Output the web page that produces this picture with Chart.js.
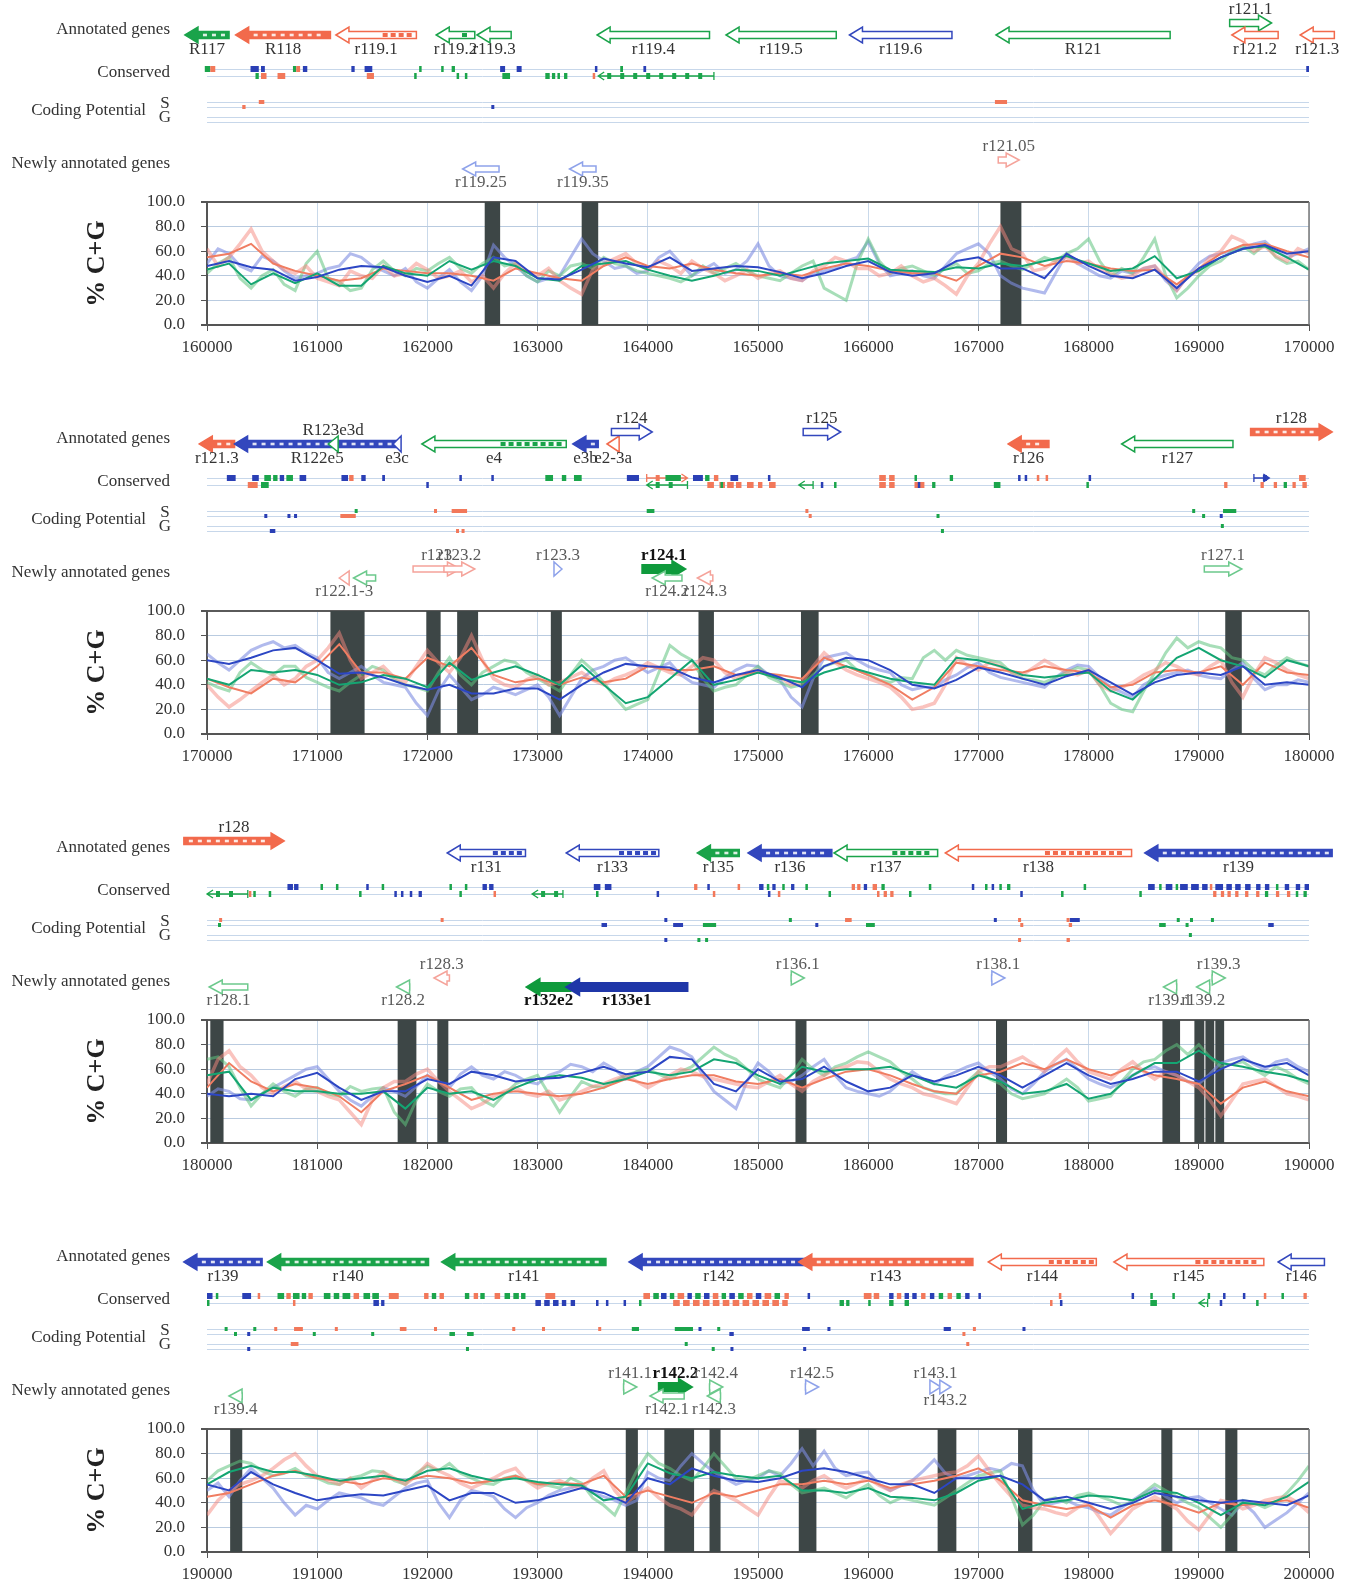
<!DOCTYPE html>
<html>
<head>
<meta charset="utf-8">
<script src="https://cdn.jsdelivr.net/npm/chart.js@4.4.0/dist/chart.umd.min.js"></script>
<style>
body { margin: 0; background: #fff; width: 1357px; height: 1586px; overflow: hidden; position: relative; }
canvas { position: absolute; left: 0; }
</style>
</head>
<body>
<canvas id="p0" width="1357" height="409"></canvas>
<canvas id="p1" width="1357" height="409"></canvas>
<canvas id="p2" width="1357" height="409"></canvas>
<canvas id="p3" width="1357" height="409"></canvas>
<script>
// window starts (bp) and sampling steps of the %C+G curves
const starts = [160000, 170000, 180000, 190000];
const rawStep = 100;   // light, noisy curves
const avgStep = 200;   // darker, smoothed curves

// ---- panel 1 : 160000-170000 ----
const redRaw1 = [62,48,55,66,78,60,52,45,42,48,38,35,32,44,40,38,48,40,42,50,
  45,38,40,44,35,40,30,42,50,44,40,46,36,30,25,45,50,54,58,50,
  45,52,48,42,52,46,42,36,40,45,38,42,44,38,36,44,48,55,52,46,
  46,40,42,48,40,35,38,32,25,40,50,66,80,62,58,44,46,52,55,50,
  52,45,42,38,40,46,48,38,28,40,44,55,60,72,68,60,64,56,52,62, 58];
const greenRaw1 = [42,50,55,38,30,40,45,33,28,50,60,38,35,28,30,45,52,44,40,46,
  44,50,55,46,42,50,55,48,50,40,35,44,40,48,50,46,55,50,48,44,
  42,40,38,35,40,48,42,46,50,44,40,38,36,42,48,52,30,25,20,50,
  70,52,42,46,48,44,40,46,50,42,44,50,52,48,45,50,55,52,58,62,
  70,52,40,46,42,55,70,40,22,30,40,48,52,60,64,58,66,55,50,52, 45];
const blueRaw1 = [50,62,58,48,44,56,52,44,38,40,42,46,48,58,55,48,44,40,46,35,
  30,38,45,35,28,40,65,55,48,40,35,38,40,55,70,58,52,46,48,42,
  44,55,60,50,40,45,50,42,45,52,66,48,40,38,36,42,44,46,52,55,
  68,50,40,42,44,40,38,48,58,62,66,58,40,34,30,28,26,42,58,50,
  45,40,38,44,42,46,48,36,28,40,50,56,58,60,62,66,68,60,55,58, 62];
const redAvg1   = [55,58,66,50,44,40,36,38,46,44, 42,42,40,36,46,42,38,36,48,55, 48,46,50,45,42,40,42,40,46,50, 48,44,42,42,36,48,58,55,48,52, 50,46,44,45,33,46,58,65,66,60, 55];
const greenAvg1 = [45,50,33,42,34,42,32,32,48,42, 40,52,45,52,48,38,36,48,50,52, 45,40,36,40,45,44,40,45,50,52, 54,45,44,43,47,46,50,48,52,56, 50,44,46,56,38,44,55,62,64,55, 45];
const blueAvg1  = [48,52,47,45,36,39,45,48,47,40, 35,40,32,55,52,38,37,45,54,50, 47,55,44,46,48,47,43,38,42,48, 52,43,40,42,52,55,46,46,38,58, 48,40,38,45,30,46,55,62,65,58, 60];
const bars1 = [[162520,162660],[163400,163550],[167200,167390]];
// [start, end, strand, colour, row, label, label side, kind]
const genes1 = [
  [159800,160200,'L','g',0,'R117','b','exon'],
  [160260,161120,'L','r',0,'R118','b','exon'],
  [161170,161900,'L','r',0,'r119.1','b','part'],
  [162080,162430,'L','g',0,'r119.2','b','part'],
  [162450,162760,'L','g',0,'r119.3','b','open'],
  [163540,164560,'L','g',0,'r119.4','b','open'],
  [164710,165710,'L','g',0,'r119.5','b','open'],
  [165830,166760,'L','b',0,'r119.6','b','open'],
  [167160,168740,'L','g',0,'R121','b','open'],
  [169280,169660,'R','g',1,'r121.1','a','open'],
  [169300,169720,'L','r',0,'r121.2','b','open'],
  [169920,170230,'L','r',0,'r121.3','b','open']
];
const newGenes1 = [
  [162320,162650,'L','b',1,'r119.25','b','open'],
  [163290,163530,'L','b',1,'r119.35','b','open'],
  [167180,167370,'R','r',0,'r121.05','a','open']
];
// [start, end, row, colour]
const cons1 = [
  [159980,160030,0,'g'],[160030,160075,0,'r'],[160395,160470,0,'b'],[160490,160525,0,'b'],
  [160780,160810,0,'g'],[160810,160845,0,'r'],[160870,160910,0,'b'],[161310,161340,0,'b'],
  [161430,161500,0,'b'],[161925,161945,0,'g'],[162125,162140,0,'g'],[162220,162250,0,'g'],
  [162660,162705,0,'b'],[162810,162855,0,'b'],[163520,163540,0,'b'],[163750,163775,0,'g'],
  [163960,163985,0,'b'],[169975,170000,0,'b'],
  [160440,160470,1,'g'],[160490,160540,1,'r'],[160640,160710,1,'r'],[161450,161515,1,'r'],
  [161880,161895,1,'g'],[162265,162280,1,'g'],[162340,162355,1,'g'],[162680,162750,1,'g'],
  [163070,163110,1,'g'],[163130,163160,1,'g'],[163180,163200,1,'g'],[163240,163270,1,'g'],
  [163500,163520,1,'r'],[163550,164600,1,'gL']
];
const coding1 = [[160320,160350,1,'r'],[160470,160520,0,'r'],[162580,162600,1,'b'],[167150,167260,0,'r']];

// ---- panel 2 : 170000-180000 ----
const redRaw2 = [40,30,22,28,35,42,48,40,45,55,60,70,82,60,45,50,55,46,42,55,
  68,58,50,62,80,60,45,40,38,44,48,40,42,46,50,44,40,45,48,52,
  58,54,50,48,55,62,60,50,45,50,52,48,46,40,42,55,66,58,52,48,
  45,42,38,30,20,22,25,40,62,56,52,58,55,50,48,54,60,55,50,48,
  52,40,35,38,42,48,52,58,55,50,48,55,60,42,30,48,62,58,52,48, 45];
const greenRaw2 = [42,38,35,50,58,52,48,55,55,46,42,38,35,42,48,55,52,44,40,38,
  35,50,62,48,40,50,55,60,58,50,45,40,35,48,60,52,42,30,20,24,
  28,50,72,65,60,45,35,38,40,48,55,46,42,38,40,48,55,58,60,52,
  48,44,42,46,45,62,68,60,68,64,62,60,58,50,45,44,42,46,50,54,
  52,40,25,20,18,35,50,66,78,70,75,72,70,62,60,52,48,56,62,58, 55];
const blueRaw2 = [65,58,52,60,68,72,75,70,72,66,62,50,45,50,55,48,42,40,38,25,
  15,35,48,38,28,32,38,35,32,36,40,30,15,30,45,52,55,60,62,56,
  50,54,58,48,42,40,38,46,52,56,55,48,44,30,22,45,62,64,66,60,
  55,52,50,40,36,38,38,44,48,54,58,50,46,44,42,40,38,46,52,56,
  55,46,38,34,30,40,45,48,50,52,48,46,45,52,58,45,36,40,40,44, 42];
const redAvg2   = [45,38,33,45,42,55,73,50,50,45, 62,55,70,48,42,45,40,46,42,45, 55,52,52,55,48,50,48,45,62,55, 48,40,28,38,58,55,52,50,55,52, 50,38,40,50,52,50,55,40,58,50, 48];
const greenAvg2 = [45,40,52,50,52,48,40,42,48,45, 38,58,44,50,55,48,40,56,40,25, 30,45,60,40,44,50,45,42,50,55, 50,45,42,40,62,60,55,48,46,48, 50,35,28,45,62,70,60,55,46,60, 55];
const blueAvg2  = [60,57,62,68,70,60,49,50,46,40, 36,40,33,33,37,37,28,40,50,57, 55,54,46,42,48,52,46,38,55,62, 60,52,40,37,44,54,50,45,40,47, 52,42,32,42,48,50,48,55,40,42, 40];
const bars2 = [[171120,171430],[171990,172120],[172270,172460],[173120,173220],[174460,174600],[175390,175550],[179240,179390]];
const genes2 = [
  [169930,170250,'L','r',0,'r121.3','b','exon'],
  [170250,171750,'L','b',0,'R122e5','b','exon'],
  [171100,171190,'L','g',0,'R123e3d','a','open'],
  [171690,171760,'L','b',0,'e3c','b','exon'],
  [171950,173260,'L','g',0,'e4','b','part'],
  [173320,173550,'L','b',0,'e3b','b','exon'],
  [173630,173740,'L','r',0,'e2-3a','b','open'],
  [173670,174040,'R','b',1,'r124','a','open'],
  [175410,175750,'R','b',1,'r125','a','open'],
  [177270,177640,'L','r',0,'r126','b','exon'],
  [178300,179310,'L','g',0,'r127','b','open'],
  [179470,180210,'R','r',1,'r128','a','exon']
];
const newGenes2 = [
  [171200,171290,'L','r',1,'r122.1-3','b','open'],
  [171330,171530,'L','g',1,'','b','open'],
  [171870,172300,'R','r',0,'r123','a','open'],
  [172150,172430,'R','r',0,'r123.2','a','open'],
  [173150,173220,'R','b',0,'r123.3','a','open'],
  [173950,174340,'R','g',0,'r124.1','a','bold'],
  [174040,174310,'L','g',1,'r124.2','b','open'],
  [174450,174590,'L','r',1,'r124.3','b','open'],
  [179050,179390,'R','g',0,'r127.1','a','open']
];
const cons2 = [
  [170180,170260,0,'b'],[170410,170470,0,'b'],[170520,170580,0,'g'],[170600,170640,0,'g'],
  [170660,170700,0,'b'],[170720,170780,0,'g'],[170840,170900,0,'b'],[171220,171280,0,'b'],
  [171290,171330,0,'r'],[171400,171440,0,'b'],[171590,171615,0,'b'],[172290,172305,0,'b'],
  [172580,172595,0,'b'],[173070,173140,0,'g'],[173220,173260,0,'g'],[173330,173400,0,'g'],
  [173810,173920,0,'b'],[173990,174360,0,'rR'],[174160,174300,0,'g'],[174410,174500,0,'b'],
  [174520,174560,0,'g'],[174600,174640,0,'r'],[174750,174820,0,'b'],[175090,175110,0,'b'],
  [176100,176160,0,'r'],[176190,176240,0,'r'],[176420,176440,0,'g'],[176740,176770,0,'g'],
  [177360,177380,0,'b'],[177420,177440,0,'b'],[177530,177550,0,'r'],[177610,177630,0,'r'],
  [178000,178015,0,'b'],[179500,179640,0,'bR'],[179910,179970,0,'r'],
  [170370,170460,1,'r'],[170490,170560,1,'g'],[171990,172010,1,'b'],[173990,174360,1,'gL'],
  [174540,174600,1,'r'],[174650,174700,1,'r'],[174660,174680,1,'g'],[174720,174780,1,'r'],
  [174800,174850,1,'r'],[174900,174960,1,'r'],[175000,175040,1,'r'],[175100,175160,1,'r'],
  [175370,175500,1,'gL'],[175570,175590,1,'b'],[175690,175710,1,'g'],[176100,176160,1,'r'],
  [176190,176240,1,'r'],[176420,176510,1,'r'],[176450,176470,1,'b'],[176580,176610,1,'g'],
  [177140,177200,1,'g'],[177980,178000,1,'g'],[179230,179260,1,'r'],[179560,179590,1,'r'],
  [179680,179710,1,'r'],[179770,179800,1,'g'],[179850,179880,1,'r'],[179940,179980,1,'r']
];
const coding2 = [
  [170520,170540,1,'b'],[170730,170750,1,'b'],[170790,170810,1,'b'],[171210,171350,1,'r'],
  [171340,171360,0,'g'],[172060,172080,0,'r'],[172220,172360,0,'r'],[172260,172280,3,'r'],
  [172310,172330,3,'r'],[170570,170620,3,'b'],[173990,174060,0,'g'],[175430,175450,0,'r'],
  [175460,175480,1,'r'],[176620,176640,1,'g'],[176660,176680,3,'g'],[178940,178960,0,'g'],
  [179030,179050,1,'g'],[179190,179210,1,'b'],[179220,179340,0,'g'],[179200,179220,2,'g']
];

// ---- panel 3 : 180000-190000 ----
const redRaw3 = [48,68,75,62,55,45,40,46,50,44,42,38,35,25,15,35,45,50,50,56,
  60,50,42,35,28,32,38,42,45,40,38,42,35,38,42,46,48,52,55,50,
  45,50,55,60,58,54,52,50,48,46,45,50,55,48,42,50,55,60,62,66,
  65,58,52,48,45,40,38,35,32,45,58,62,62,66,70,64,58,68,76,66,
  58,55,52,60,66,58,52,58,55,50,45,35,22,35,48,50,52,46,40,38, 35];
const greenRaw3 = [68,70,62,45,30,40,48,42,38,44,45,40,38,46,42,44,45,25,15,35,
  48,42,38,44,45,35,30,40,48,52,55,40,25,38,50,46,45,50,55,58,
  60,56,52,58,62,70,78,72,68,60,52,48,45,55,68,60,55,62,65,70,
  74,70,66,58,52,45,42,40,40,50,58,52,48,40,36,38,40,46,52,45,
  34,36,38,50,60,66,68,75,80,72,80,70,62,64,66,60,55,62,58,52, 48];
const blueRaw3 = [38,44,42,36,35,40,45,50,55,60,62,52,42,35,30,38,45,42,38,46,
  55,50,45,56,62,55,52,58,55,50,48,55,58,64,62,58,65,60,52,58,
  62,70,78,75,70,55,42,35,28,50,65,58,48,50,55,62,68,55,45,42,
  40,38,42,50,58,52,48,54,58,62,65,58,52,44,40,48,58,64,68,60,
  52,48,45,50,55,60,62,58,55,50,48,56,65,68,70,64,60,66,68,62, 58];
const redAvg3   = [45,65,50,42,48,45,38,25,42,48, 55,45,35,40,42,40,38,40,45,52, 48,52,55,55,50,48,52,45,52,58, 60,55,48,42,40,55,58,65,60,68, 60,55,62,55,52,48,32,45,50,42, 38];
const greenAvg3 = [55,58,35,45,42,42,40,40,42,28, 45,40,42,35,45,52,55,53,48,52, 58,55,58,68,65,55,48,62,58,60, 60,62,55,48,45,55,50,40,42,48, 36,40,55,65,65,75,65,62,58,55, 50];
const blueAvg3  = [40,38,40,38,52,57,45,35,42,42, 52,48,58,55,50,52,53,57,62,56, 58,70,68,48,42,60,50,52,62,50, 42,45,55,50,55,62,55,45,55,65, 55,48,52,58,58,50,60,68,62,65, 55];
const bars3 = [[180030,180150],[181730,181900],[182090,182190],[185340,185440],[187160,187260],[188670,188830],[188960,189050],[189060,189140],[189150,189230]];
const genes3 = [
  [179790,180700,'R','r',1,'r128','a','exon'],
  [182180,182890,'L','b',0,'r131','b','part'],
  [183260,184100,'L','b',0,'r133','b','part'],
  [184450,184830,'L','g',0,'r135','b','exon'],
  [184910,185670,'L','b',0,'r136','b','exon'],
  [185690,186630,'L','g',0,'r137','b','part'],
  [186700,188390,'L','r',0,'r138','b','part'],
  [188510,190210,'L','b',0,'r139','b','exon']
];
const newGenes3 = [
  [180020,180370,'L','g',1,'r128.1','b','open'],
  [182060,182200,'L','r',0,'r128.3','a','open'],
  [181720,181840,'L','g',1,'r128.2','b','open'],
  [182900,183300,'L','g',1,'r132e2','b','bold'],
  [183260,184360,'L','b',1,'r133e1','b','bold'],
  [185300,185420,'R','g',0,'r136.1','a','open'],
  [187120,187240,'R','b',0,'r138.1','a','open'],
  [188680,188800,'L','g',1,'r139.1','b','open'],
  [188980,189100,'L','g',1,'r139.2','b','open'],
  [189120,189240,'R','g',0,'r139.3','a','open']
];
const cons3 = [
  [180730,180780,0,'b'],[180790,180830,0,'b'],[181030,181045,0,'g'],[181170,181185,0,'g'],
  [181445,181460,0,'b'],[181585,181600,0,'g'],[182200,182215,0,'g'],[182340,182355,0,'g'],
  [182500,182540,0,'b'],[182560,182600,0,'b'],[183510,183570,0,'b'],[183610,183670,0,'b'],
  [184420,184450,0,'r'],[184540,184555,0,'b'],[184815,184830,0,'r'],[185010,185050,0,'b'],
  [185080,185100,0,'g'],[185130,185160,0,'b'],[185220,185240,0,'g'],[185300,185330,0,'b'],
  [185430,185445,0,'g'],[185850,185880,0,'r'],[185900,185930,0,'r'],[185960,185990,0,'b'],
  [186040,186080,0,'r'],[186120,186150,0,'g'],[186550,186565,0,'g'],[186940,186955,0,'b'],
  [187060,187080,0,'g'],[187120,187140,0,'b'],[187190,187200,0,'g'],[187260,187290,0,'g'],
  [187955,187970,0,'g'],[188540,188600,0,'b'],[188640,188660,0,'g'],[188700,188760,0,'b'],
  [188790,188800,0,'g'],[188830,188900,0,'b'],[188930,189000,0,'b'],[189030,189080,0,'b'],
  [189100,189120,0,'r'],[189150,189220,0,'b'],[189250,189300,0,'b'],[189330,189380,0,'b'],
  [189420,189470,0,'b'],[189520,189560,0,'b'],[189600,189640,0,'b'],[189700,189720,0,'g'],
  [189780,189820,0,'b'],[189880,189920,0,'b'],[189960,190000,0,'b'],
  [180000,180370,1,'gL'],[180380,180400,1,'r'],[180420,180440,1,'g'],[180560,180580,1,'g'],
  [181380,181395,1,'g'],[181700,181720,1,'b'],[181760,181780,1,'b'],[181840,181860,1,'b'],
  [181920,181950,1,'b'],[182290,182305,1,'g'],[182600,182615,1,'r'],[182950,183230,1,'gL'],
  [183530,183545,1,'g'],[184080,184095,1,'b'],[184590,184610,1,'r'],[185090,185105,1,'b'],
  [185180,185200,1,'r'],[185640,185655,1,'g'],[186080,186100,1,'r'],[186140,186170,1,'r'],
  [186200,186230,1,'r'],[186370,186385,1,'g'],[187380,187395,1,'b'],[187750,187765,1,'g'],
  [188460,188480,1,'g'],[189130,189160,1,'r'],[189200,189230,1,'r'],[189260,189290,1,'r'],
  [189330,189360,1,'r'],[189420,189450,1,'r'],[189520,189550,1,'r'],[189600,189630,1,'g'],
  [189700,189730,1,'r'],[189800,189830,1,'r'],[189880,189900,1,'g'],[189950,189980,1,'g']
];
const coding3 = [
  [180100,180120,1,'g'],[180110,180130,0,'r'],[182120,182140,0,'r'],[183580,183630,1,'b'],
  [184150,184170,0,'b'],[184230,184320,1,'b'],[184500,184620,1,'g'],[184150,184170,3,'b'],
  [184450,184470,3,'g'],[184520,184540,3,'g'],[185280,185300,0,'g'],[185520,185540,1,'b'],
  [185790,185850,0,'r'],[185980,186060,1,'g'],[187140,187160,0,'b'],[187360,187380,0,'r'],
  [187380,187400,1,'r'],[187360,187380,3,'r'],[187800,187820,0,'r'],[187830,187920,0,'b'],
  [187820,187850,1,'r'],[187800,187830,3,'r'],[188640,188700,1,'g'],[188800,188820,0,'g'],
  [188880,188900,1,'g'],[188920,188940,0,'g'],[188910,188930,2,'g'],[189110,189130,0,'g'],
  [189630,189680,1,'b']
];

// ---- panel 4 : 190000-200000 ----
const redRaw4 = [30,42,50,55,58,62,68,75,80,70,62,58,55,60,52,58,65,60,55,62,
  72,66,62,56,52,56,60,65,68,58,52,56,58,54,52,60,66,50,40,46,
  52,44,38,35,30,42,50,46,42,36,30,45,58,55,52,58,62,56,52,56,
  60,54,50,55,58,60,62,64,65,70,78,66,55,45,38,36,35,32,30,36,
  40,28,15,25,35,40,45,40,35,25,18,30,42,40,35,38,42,44,45,40, 32];
const greenRaw4 = [58,66,70,74,72,66,62,64,68,62,60,56,55,60,62,66,65,58,55,64,
  70,66,72,64,60,56,55,60,62,58,55,54,52,60,56,44,38,30,48,66,
  80,72,68,62,58,68,80,70,60,58,62,66,64,55,48,50,52,48,44,50,
  55,46,40,44,42,40,38,44,50,56,62,64,66,45,22,30,42,44,40,46,
  48,45,42,38,40,48,55,50,45,40,36,28,20,30,42,40,36,40,48,58, 70];
const blueRaw4 = [50,56,45,58,68,60,52,40,30,38,35,42,48,46,44,40,38,45,52,56,
  58,40,28,42,50,48,45,35,28,36,40,46,50,52,55,48,45,42,38,42,
  65,60,58,70,80,72,65,60,55,58,60,66,62,72,84,70,82,68,62,64,
  65,55,50,54,58,66,75,64,60,62,65,68,66,72,70,50,38,40,42,38,
  36,32,30,36,42,48,52,45,40,44,45,40,35,30,40,32,20,26,32,40, 48];
const redAvg4   = [45,48,55,62,66,60,58,55,60,58, 62,60,56,58,62,55,56,55,62,45, 50,45,40,48,45,50,55,55,58,55, 58,52,55,58,62,68,58,42,38,35, 38,28,38,42,38,32,40,38,40,42, 36];
const greenAvg4 = [55,65,70,65,65,62,58,60,62,58, 66,68,62,58,60,57,55,54,42,45, 72,64,60,65,62,60,62,50,50,48, 52,45,44,42,48,58,62,35,40,42, 46,45,42,50,48,40,30,40,38,45, 57];
const blueAvg4  = [55,50,65,55,48,42,45,47,46,50, 54,42,48,48,40,42,47,52,48,40, 60,55,68,62,58,57,60,66,68,65, 60,55,55,48,60,60,62,55,42,45, 40,35,40,48,45,42,40,42,40,38, 46];
const bars4 = [[190210,190320],[193800,193910],[194150,194420],[194560,194660],[195370,195530],[196630,196800],[197360,197490],[198660,198760],[199240,199350]];
const genes4 = [
  [189790,190500,'L','b',0,'r139','b','exon'],
  [190550,192010,'L','g',0,'r140','b','exon'],
  [192130,193620,'L','g',0,'r141','b','exon'],
  [193830,195460,'L','b',0,'r142','b','exon'],
  [195370,196950,'L','r',0,'r143','b','exon'],
  [197090,198070,'L','r',0,'r144','b','part'],
  [198230,199590,'L','r',0,'r145','b','part'],
  [199720,200140,'L','b',0,'r146','b','open']
];
const newGenes4 = [
  [190200,190320,'L','g',1,'r139.4','b','open'],
  [193780,193900,'R','g',0,'r141.1','a','open'],
  [194100,194400,'R','g',0,'r142.2','a','bold'],
  [194560,194680,'R','g',0,'r142.4','a','open'],
  [194020,194330,'L','g',1,'r142.1','b','open'],
  [194540,194660,'L','g',1,'r142.3','b','open'],
  [195430,195550,'R','b',0,'r142.5','a','open'],
  [196560,196660,'R','b',0,'r143.1','a','open'],
  [196650,196750,'R','b',0,'r143.2','b','open']
];
const cons4 = [
  [190000,190050,0,'b'],[190080,190095,0,'g'],[190320,190400,0,'b'],[190460,190475,0,'r'],
  [190640,190700,0,'g'],[190720,190760,0,'r'],[190780,190840,0,'g'],[190860,190900,0,'g'],
  [190920,190960,0,'r'],[191060,191120,0,'g'],[191150,191200,0,'g'],[191230,191300,0,'g'],
  [191330,191380,0,'r'],[191420,191480,0,'g'],[191500,191560,0,'g'],[191650,191740,0,'r'],
  [191970,192010,0,'r'],[192040,192080,0,'g'],[192110,192150,0,'r'],[192340,192380,0,'g'],
  [192420,192460,0,'r'],[192480,192520,0,'g'],[192610,192660,0,'r'],[192700,192750,0,'g'],
  [192780,192830,0,'g'],[192850,192890,0,'g'],[193070,193160,0,'r'],
  [193960,194020,0,'r'],[194050,194100,0,'g'],[194120,194170,0,'b'],[194200,194240,0,'g'],
  [194270,194330,0,'r'],[194360,194400,0,'b'],[194430,194480,0,'g'],[194510,194560,0,'b'],
  [194590,194640,0,'r'],[194670,194710,0,'g'],[194740,194790,0,'b'],[194820,194870,0,'g'],
  [194900,194950,0,'r'],[194980,195030,0,'b'],[195060,195120,0,'r'],[195150,195200,0,'g'],
  [195240,195280,0,'r'],[195450,195470,0,'b'],[195960,196030,0,'r'],[196050,196100,0,'r'],
  [196190,196230,0,'b'],[196260,196300,0,'r'],[196330,196370,0,'b'],[196400,196440,0,'b'],
  [196480,196520,0,'r'],[196560,196600,0,'b'],[196640,196680,0,'g'],[196720,196760,0,'r'],
  [196800,196840,0,'g'],[196880,196920,0,'b'],[197000,197015,0,'b'],[197730,197745,0,'r'],
  [198390,198405,0,'b'],[198560,198575,0,'g'],[198760,198775,0,'g'],[199080,199095,0,'g'],
  [199220,199235,0,'b'],[199400,199415,0,'b'],[199590,199605,0,'r'],[199750,199765,0,'g'],
  [199950,199980,0,'r'],
  [190000,190015,1,'g'],[190780,190800,1,'r'],[191510,191560,1,'b'],[191580,191610,1,'b'],
  [192980,193030,1,'b'],[193060,193110,1,'b'],[193140,193190,1,'b'],[193220,193260,1,'b'],
  [193300,193340,1,'b'],[193530,193545,1,'b'],[193620,193640,1,'b'],[193780,193800,1,'b'],
  [193920,193940,1,'g'],[194230,194290,1,'r'],[194320,194380,1,'r'],[194410,194470,1,'r'],
  [194500,194560,1,'r'],[194590,194650,1,'r'],[194680,194740,1,'r'],[194770,194830,1,'r'],
  [194860,194920,1,'r'],[194950,195010,1,'r'],[195040,195100,1,'r'],[195130,195190,1,'r'],
  [195220,195270,1,'r'],[195740,195780,1,'g'],[195800,195830,1,'g'],[196000,196015,1,'g'],
  [196190,196230,1,'g'],[196330,196370,1,'g'],[197650,197670,1,'r'],[197740,197760,1,'b'],
  [198560,198620,1,'g'],[199000,199080,1,'gL'],[199190,199205,1,'b'],[199520,199535,1,'g']
];
const coding4 = [
  [190160,190180,0,'g'],[190420,190440,0,'g'],[190610,190630,0,'r'],[190790,190870,0,'r'],
  [191160,191180,0,'r'],[191750,191810,0,'r'],[192060,192080,0,'r'],[192770,192790,0,'r'],
  [193040,193060,0,'r'],[193550,193570,0,'r'],[193855,193920,0,'g'],[194245,194410,0,'g'],
  [194460,194480,0,'b'],[194630,194650,0,'g'],[195400,195470,0,'b'],[195630,195650,0,'b'],
  [196685,196750,0,'b'],[196950,196970,0,'r'],[197400,197420,0,'b'],
  [190245,190265,1,'g'],[190365,190385,1,'b'],[190960,190980,1,'g'],[191490,191510,1,'g'],
  [192200,192250,1,'g'],[192360,192420,1,'g'],[194740,194780,1,'b'],[196855,196880,1,'r'],
  [190760,190830,2,'r'],[194335,194355,2,'g'],[196890,196910,2,'r'],
  [190365,190385,3,'b'],[192350,192370,3,'g'],[194580,194600,3,'g'],[194750,194770,3,'b'],
  [195410,195430,3,'b']
];

// ---- drawing ----
const serif = '"Liberation Serif", "DejaVu Serif", serif';
const TOP = 250; // chart area top inside each panel canvas
const geneCol = { g: '#1aa34a', r: '#f26a4c', b: '#3347bd' };
const newCol = { g: '#6cc98c', r: '#f5a39a', b: '#8ea2ea' };
const boldCol = { g: '#0f9a3c', r: '#e0502c', b: '#1f36a8' };
const markCol = { g: '#1ba54b', r: '#f2785a', b: '#2a3fb5' };

function drawArrow(ctx, x1, x2, y, dir, color, kind, hh, sh) {
  const head = 13;
  const len = x2 - x1;
  let tip, tail;
  if (len <= head) {
    // tiny gene: arrow head only
    const w = Math.max(len, 8);
    const mid = (x1 + x2) / 2;
    tip = dir === 'R' ? mid + w / 2 : mid - w / 2;
    tail = dir === 'R' ? mid - w / 2 : mid + w / 2;
    ctx.beginPath();
    ctx.moveTo(tip, y);
    ctx.lineTo(tail, y - hh);
    ctx.lineTo(tail, y + hh);
    ctx.closePath();
    ctx.fillStyle = kind === 'bold' ? color : '#fff';
    ctx.fill();
    ctx.strokeStyle = color;
    ctx.lineWidth = 1.5;
    ctx.stroke();
    return;
  }
  tip = dir === 'R' ? x2 : x1;
  tail = dir === 'R' ? x1 : x2;
  const s = dir === 'R' ? -1 : 1;
  const neck = tip + s * head;
  ctx.beginPath();
  ctx.moveTo(tip, y);
  ctx.lineTo(neck, y - hh);
  ctx.lineTo(neck, y - sh);
  ctx.lineTo(tail, y - sh);
  ctx.lineTo(tail, y + sh);
  ctx.lineTo(neck, y + sh);
  ctx.lineTo(neck, y + hh);
  ctx.closePath();
  ctx.fillStyle = (kind === 'exon' || kind === 'bold') ? color : '#fff';
  ctx.fill();
  ctx.strokeStyle = color;
  ctx.lineWidth = kind === 'bold' ? 2 : 1.5;
  ctx.stroke();
  const a = Math.min(neck, tail), b = Math.max(neck, tail);
  if (kind === 'exon') {
    ctx.fillStyle = 'rgba(255,255,255,0.85)';
    for (let x = a + 5; x < b - 5; x += 9) ctx.fillRect(x, y - 1.3, 4, 2.6);
  } else if (kind === 'part') {
    ctx.fillStyle = color;
    const from = dir === 'L' ? (a + b) / 2 : a + 3;
    const to = dir === 'L' ? b - 3 : (a + b) / 2;
    for (let x = from; x < to - 4; x += 8) ctx.fillRect(x, y - sh + 1.5, 5, 2 * sh - 3);
  }
}

function drawModel(ctx, x1, x2, y, dir, color) {
  ctx.strokeStyle = color;
  ctx.fillStyle = color;
  ctx.lineWidth = 1.3;
  ctx.beginPath();
  ctx.moveTo(x1, y); ctx.lineTo(x2, y);
  const end = dir === 'R' ? x1 : x2;
  ctx.moveTo(end, y - 4); ctx.lineTo(end, y + 4);
  const tip = dir === 'R' ? x2 : x1, s = dir === 'R' ? -1 : 1;
  ctx.moveTo(tip + s * 6, y - 4); ctx.lineTo(tip, y); ctx.lineTo(tip + s * 6, y + 4);
  ctx.stroke();
  for (let x = Math.min(x1, x2) + 9; x < Math.max(x1, x2) - 6; x += 13) ctx.fillRect(x, y - 3, 4, 6);
}

function makeTracks(p) {
  return {
    id: 'tracks',
    beforeDatasetsDraw(chart) {
      const { ctx, chartArea: ca, scales: { x } } = chart;
      ctx.save();
      ctx.fillStyle = '#3d4646';
      p.bars.forEach(([a, b]) => {
        const xa = x.getPixelForValue(a), xb = x.getPixelForValue(b);
        ctx.fillRect(xa, ca.top, xb - xa, ca.bottom - ca.top);
      });
      ctx.restore();
    },
    afterDraw(chart) {
      const { ctx, chartArea: ca, scales: { x } } = chart;
      const px = v => x.getPixelForValue(v);
      const t = ca.top;
      ctx.save();
      // right frame line
      ctx.strokeStyle = '#777';
      ctx.lineWidth = 1.5;
      ctx.beginPath(); ctx.moveTo(ca.right, ca.top); ctx.lineTo(ca.right, ca.bottom); ctx.stroke();

      // row titles
      ctx.fillStyle = '#333';
      ctx.font = '17px ' + serif;
      ctx.textBaseline = 'middle';
      ctx.textAlign = 'right';
      ctx.fillText('Annotated genes', 170, t - 172);
      ctx.fillText('Conserved', 170, t - 129);
      ctx.fillText('Coding Potential', 146, t - 91);
      ctx.fillText('Newly annotated genes', 170, t - 38);
      ctx.textAlign = 'center';
      ctx.fillText('S', 165, t - 98);
      ctx.fillText('G', 165, t - 84);

      // guide lines of conserved and coding tracks
      ctx.strokeStyle = '#c7d7ea';
      ctx.lineWidth = 1;
      const consY = [t - 133, t - 126];
      const codY = [t - 100, t - 95, t - 85, t - 80];
      consY.concat(codY).forEach(yy => {
        ctx.beginPath(); ctx.moveTo(ca.left, yy + 0.5); ctx.lineTo(ca.right, yy + 0.5); ctx.stroke();
      });

      // conserved blocks
      p.cons.forEach(([a, b, row, c]) => {
        const xa = px(a), xb = px(b), yy = consY[row];
        if (c.length === 2) {
          drawModel(ctx, xa, xb, yy, c[1], markCol[c[0]]);
        } else {
          ctx.fillStyle = markCol[c];
          ctx.fillRect(xa, yy - 3, Math.max(xb - xa, 2.5), 6);
        }
      });
      // coding potential marks
      p.coding.forEach(([a, b, row, c]) => {
        const xa = px(a), xb = px(b), yy = codY[row];
        ctx.fillStyle = markCol[c];
        ctx.fillRect(xa, yy - 2, Math.max(xb - xa, 3), 4);
      });

      // annotated genes
      ctx.font = '17px ' + serif;
      p.genes.forEach(([a, b, dir, c, row, label, side, kind]) => {
        const yy = row === 1 ? t - 179 : t - 167;
        drawArrow(ctx, px(a), px(b), yy, dir, geneCol[c], kind, 8, 3.5);
        if (label) {
          ctx.fillStyle = '#333';
          ctx.textAlign = 'center';
          const ly = side === 'a' ? yy - 13 : yy + 15;
          ctx.fillText(label, (px(a) + px(b)) / 2, ly);
        }
      });

      // newly annotated genes
      p.newGenes.forEach(([a, b, dir, c, row, label, side, kind]) => {
        const yy = row === 1 ? t - 33 : t - 42;
        const col = kind === 'bold' ? boldCol[c] : newCol[c];
        drawArrow(ctx, px(a), px(b), yy, dir, col, kind, kind === 'bold' ? 8 : 7, kind === 'bold' ? 4 : 3);
        if (label) {
          ctx.fillStyle = kind === 'bold' ? '#111' : '#5a5a5a';
          ctx.font = (kind === 'bold' ? 'bold ' : '') + '17px ' + serif;
          ctx.textAlign = 'center';
          const ly = side === 'a' ? yy - 13 : yy + 14;
          ctx.fillText(label, (px(a) + px(b)) / 2, ly);
        }
      });
      ctx.restore();
    }
  };
}

const panels = [
  { start: starts[0], redRaw: redRaw1, greenRaw: greenRaw1, blueRaw: blueRaw1, redAvg: redAvg1, greenAvg: greenAvg1, blueAvg: blueAvg1, bars: bars1, genes: genes1, newGenes: newGenes1, cons: cons1, coding: coding1 },
  { start: starts[1], redRaw: redRaw2, greenRaw: greenRaw2, blueRaw: blueRaw2, redAvg: redAvg2, greenAvg: greenAvg2, blueAvg: blueAvg2, bars: bars2, genes: genes2, newGenes: newGenes2, cons: cons2, coding: coding2 },
  { start: starts[2], redRaw: redRaw3, greenRaw: greenRaw3, blueRaw: blueRaw3, redAvg: redAvg3, greenAvg: greenAvg3, blueAvg: blueAvg3, bars: bars3, genes: genes3, newGenes: newGenes3, cons: cons3, coding: coding3 },
  { start: starts[3], redRaw: redRaw4, greenRaw: greenRaw4, blueRaw: blueRaw4, redAvg: redAvg4, greenAvg: greenAvg4, blueAvg: blueAvg4, bars: bars4, genes: genes4, newGenes: newGenes4, cons: cons4, coding: coding4 }
];

panels.forEach((p, k) => {
  const canvas = document.getElementById('p' + k);
  canvas.style.top = (Math.round(202.2 + 408.8 * k) - TOP) + 'px';
  const toXY = (arr, step) => arr.map((v, i) => ({ x: p.start + i * step, y: v }));
  const line = (arr, step, color, width) => ({
    data: toXY(arr, step), borderColor: color, borderWidth: width,
    pointRadius: 0, fill: false, tension: 0
  });
  new Chart(canvas.getContext('2d'), {
    type: 'line',
    data: {
      datasets: [
        // first listed is drawn on top
        line(p.blueAvg, avgStep, '#2c46c4', 2),
        line(p.greenAvg, avgStep, '#14a572', 2),
        line(p.redAvg, avgStep, '#f07d62', 2),
        line(p.redRaw, rawStep, 'rgba(245,135,125,0.5)', 3.5),
        line(p.greenRaw, rawStep, 'rgba(95,195,125,0.55)', 3),
        line(p.blueRaw, rawStep, 'rgba(125,140,225,0.6)', 3)
      ]
    },
    options: {
      responsive: false,
      animation: false,
      layout: { padding: { top: TOP, right: 48, bottom: 0, left: 0 } },
      plugins: { legend: { display: false }, tooltip: { enabled: false } },
      scales: {
        x: {
          type: 'linear',
          min: p.start, max: p.start + 10000,
          afterFit: s => { s.height = 36; },
          ticks: { stepSize: 1000, autoSkip: false, maxRotation: 0, padding: 6,
                   color: '#333', font: { family: serif, size: 17 }, callback: v => String(v) },
          grid: { color: '#c9d9ea', lineWidth: 1, tickColor: '#555', tickLength: 6 },
          border: { color: '#555', width: 2 }
        },
        y: {
          min: 0, max: 100,
          afterFit: s => { s.width = 207; },
          ticks: { stepSize: 20, padding: 16, color: '#333', font: { family: serif, size: 17 },
                   callback: v => v.toFixed(1) },
          grid: {
            color: c => (c.tick && (c.tick.value === 0 || c.tick.value === 100)) ? '#5a5a5a' : '#b9cbe0',
            lineWidth: c => (c.tick && (c.tick.value === 0 || c.tick.value === 100)) ? 2 : 1,
            tickColor: '#555', tickLength: 6
          },
          border: { color: '#555', width: 2 },
          title: { display: true, text: '% C+G', color: '#222',
                   font: { family: serif, size: 26, weight: 'bold' }, padding: { top: 82, bottom: 0 } }
        }
      }
    },
    plugins: [makeTracks(p)]
  });
});
</script>
</body>
</html>
